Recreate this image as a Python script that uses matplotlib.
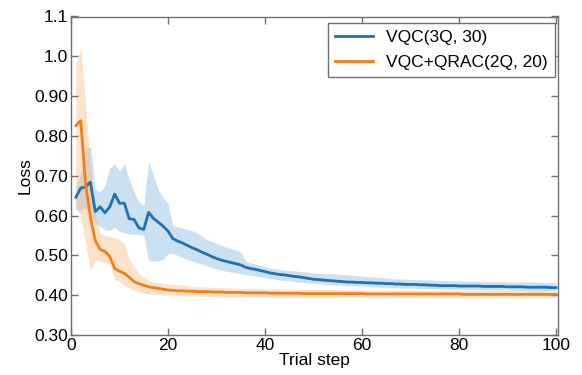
import matplotlib
matplotlib.use("Agg")
import matplotlib.pyplot as plt
import numpy as np

plt.rcParams['font.family'] = ['Liberation Sans', 'DejaVu Sans']

steps = list(range(1, 101))

vqc_mean = [
    0.646, 0.669, 0.672, 0.684, 0.610, 0.622, 0.607, 0.622, 0.654, 0.631,
    0.631, 0.592, 0.590, 0.569, 0.565, 0.608, 0.593, 0.583, 0.573, 0.561,
    0.542, 0.536, 0.531, 0.525, 0.519, 0.514, 0.508, 0.503, 0.497, 0.492,
    0.488, 0.485, 0.482, 0.479, 0.476, 0.470, 0.467, 0.465, 0.462, 0.459,
    0.456, 0.454, 0.452, 0.451, 0.449, 0.447, 0.446, 0.444, 0.442, 0.440,
    0.439, 0.438, 0.437, 0.436, 0.435, 0.434, 0.433, 0.433, 0.432, 0.432,
    0.431, 0.431, 0.430, 0.430, 0.429, 0.429, 0.428, 0.428, 0.427, 0.427,
    0.427, 0.426, 0.426, 0.425, 0.425, 0.424, 0.424, 0.424, 0.424, 0.423,
    0.423, 0.423, 0.423, 0.423, 0.422, 0.422, 0.422, 0.422, 0.422, 0.421,
    0.421, 0.421, 0.421, 0.420, 0.420, 0.420, 0.420, 0.420, 0.419, 0.419,
]
vqc_upper = [
    0.672, 0.705, 0.770, 0.772, 0.665, 0.660, 0.675, 0.720, 0.730, 0.712,
    0.730, 0.690, 0.660, 0.635, 0.625, 0.735, 0.700, 0.665, 0.645, 0.630,
    0.575, 0.572, 0.569, 0.566, 0.562, 0.556, 0.548, 0.540, 0.535, 0.530,
    0.525, 0.521, 0.517, 0.513, 0.509, 0.485, 0.481, 0.478, 0.475, 0.471,
    0.468, 0.466, 0.465, 0.463, 0.462, 0.461, 0.460, 0.459, 0.457, 0.456,
    0.455, 0.455, 0.454, 0.454, 0.453, 0.452, 0.451, 0.450, 0.449, 0.448,
    0.447, 0.446, 0.445, 0.444, 0.443, 0.442, 0.441, 0.441, 0.440, 0.440,
    0.439, 0.439, 0.438, 0.438, 0.437, 0.437, 0.437, 0.436, 0.436, 0.436,
    0.435, 0.435, 0.435, 0.435, 0.434, 0.434, 0.434, 0.434, 0.434, 0.433,
    0.433, 0.433, 0.433, 0.433, 0.433, 0.433, 0.432, 0.432, 0.432, 0.432,
]
vqc_lower = [
    0.615, 0.612, 0.620, 0.600, 0.580, 0.572, 0.565, 0.562, 0.570, 0.560,
    0.556, 0.554, 0.553, 0.552, 0.550, 0.487, 0.486, 0.486, 0.490, 0.505,
    0.505, 0.500, 0.495, 0.490, 0.486, 0.482, 0.478, 0.474, 0.470, 0.466,
    0.463, 0.460, 0.458, 0.456, 0.454, 0.452, 0.450, 0.448, 0.446, 0.444,
    0.442, 0.440, 0.438, 0.437, 0.436, 0.434, 0.433, 0.432, 0.431, 0.430,
    0.429, 0.428, 0.427, 0.426, 0.426, 0.425, 0.424, 0.424, 0.423, 0.423,
    0.422, 0.421, 0.421, 0.420, 0.420, 0.419, 0.419, 0.418, 0.418, 0.418,
    0.417, 0.417, 0.417, 0.416, 0.416, 0.416, 0.415, 0.415, 0.415, 0.415,
    0.414, 0.414, 0.414, 0.414, 0.414, 0.413, 0.413, 0.413, 0.413, 0.413,
    0.413, 0.412, 0.412, 0.412, 0.412, 0.412, 0.412, 0.412, 0.412, 0.412,
]

qrac_mean = [
    0.826, 0.838, 0.680, 0.596, 0.537, 0.515, 0.510, 0.497, 0.467, 0.460,
    0.455, 0.445, 0.434, 0.429, 0.425, 0.421, 0.419, 0.417, 0.415, 0.413,
    0.412, 0.411, 0.411, 0.410, 0.410, 0.409, 0.409, 0.409, 0.408, 0.408,
    0.408, 0.407, 0.407, 0.407, 0.407, 0.406, 0.406, 0.406, 0.406, 0.406,
    0.405, 0.405, 0.405, 0.405, 0.405, 0.405, 0.405, 0.404, 0.404, 0.404,
    0.404, 0.404, 0.404, 0.404, 0.404, 0.404, 0.404, 0.404, 0.404, 0.404,
    0.403, 0.403, 0.403, 0.403, 0.403, 0.403, 0.403, 0.403, 0.403, 0.403,
    0.403, 0.403, 0.403, 0.403, 0.403, 0.403, 0.403, 0.403, 0.403, 0.403,
    0.402, 0.402, 0.402, 0.402, 0.402, 0.402, 0.402, 0.402, 0.402, 0.402,
    0.402, 0.402, 0.402, 0.402, 0.402, 0.402, 0.402, 0.402, 0.402, 0.402,
]
qrac_upper = [
    0.980, 1.020, 0.880, 0.720, 0.600, 0.555, 0.550, 0.548, 0.545, 0.540,
    0.530, 0.490, 0.470, 0.455, 0.445, 0.438, 0.433, 0.431, 0.429, 0.428,
    0.427, 0.426, 0.425, 0.424, 0.422, 0.421, 0.421, 0.420, 0.420, 0.419,
    0.419, 0.418, 0.418, 0.418, 0.417, 0.417, 0.417, 0.417, 0.416, 0.416,
    0.416, 0.416, 0.415, 0.415, 0.415, 0.415, 0.415, 0.414, 0.414, 0.414,
    0.414, 0.414, 0.414, 0.414, 0.414, 0.413, 0.413, 0.413, 0.413, 0.413,
    0.413, 0.413, 0.413, 0.413, 0.413, 0.413, 0.413, 0.413, 0.413, 0.413,
    0.413, 0.413, 0.412, 0.412, 0.412, 0.412, 0.412, 0.412, 0.412, 0.412,
    0.412, 0.412, 0.412, 0.412, 0.412, 0.412, 0.412, 0.412, 0.412, 0.412,
    0.412, 0.412, 0.412, 0.412, 0.412, 0.412, 0.412, 0.412, 0.412, 0.412,
]
qrac_lower = [
    0.620, 0.600, 0.530, 0.462, 0.488, 0.486, 0.482, 0.478, 0.440, 0.435,
    0.425, 0.418, 0.412, 0.408, 0.405, 0.403, 0.402, 0.401, 0.400, 0.400,
    0.399, 0.399, 0.398, 0.398, 0.398, 0.397, 0.397, 0.397, 0.397, 0.397,
    0.396, 0.396, 0.396, 0.396, 0.396, 0.396, 0.396, 0.396, 0.396, 0.396,
    0.395, 0.395, 0.395, 0.395, 0.395, 0.395, 0.395, 0.395, 0.395, 0.395,
    0.395, 0.395, 0.395, 0.395, 0.395, 0.395, 0.395, 0.395, 0.395, 0.395,
    0.394, 0.394, 0.394, 0.394, 0.394, 0.394, 0.394, 0.394, 0.394, 0.394,
    0.394, 0.394, 0.394, 0.394, 0.394, 0.394, 0.394, 0.394, 0.394, 0.394,
    0.394, 0.394, 0.394, 0.394, 0.394, 0.394, 0.394, 0.394, 0.394, 0.394,
    0.394, 0.394, 0.394, 0.394, 0.394, 0.394, 0.394, 0.394, 0.394, 0.394,
]

series_labels = ["VQC(3Q, 30)", "VQC+QRAC(2Q, 20)"]
ytick_vals = [0.3, 0.4, 0.5, 0.6, 0.7, 0.8, 0.9, 1.0, 1.1]
ytick_labels = ["0.30", "0.40", "0.50", "0.60", "0.70", "0.80", "0.90", "1.0", "1.1"]
xtick_vals = [0, 20, 40, 60, 80, 100]

blue = "#2270b0"
orange = "#f07f1a"
FS = 12.5

fig = plt.figure(figsize=(5.82, 3.75), dpi=100)
ax = fig.add_axes([71/582, 40/375, 487/582, 318.5/375])

ax.fill_between(steps, vqc_lower, vqc_upper, color="#7fb2dd", alpha=0.4, lw=0)
ax.fill_between(steps, qrac_lower, qrac_upper, color="#fdb679", alpha=0.4, lw=0)
ax.plot(steps, vqc_mean, color=blue, lw=2.0, label=series_labels[0])
ax.plot(steps, qrac_mean, color=orange, lw=2.0, label=series_labels[1])

ax.set_xlim(0, 100.4)
ax.set_ylim(0.3, 1.1)
ax.set_yticks(ytick_vals)
ax.set_yticklabels(ytick_labels)
ax.set_xticks(xtick_vals)

for s in ax.spines.values():
    s.set_color("#707070")
    s.set_linewidth(1.0)
ax.tick_params(direction="in", top=True, right=True, length=5, width=1,
               color="#707070", labelsize=FS, pad=2)
ax.set_xlabel("Trial step", fontsize=FS, labelpad=0)
ax.set_ylabel("Loss", fontsize=FS, labelpad=1)

leg = ax.legend(loc="upper right", bbox_to_anchor=(0.9938, 0.980), borderaxespad=0,
                fancybox=False, edgecolor="#707070", fontsize=FS, handlelength=2.2,
                borderpad=0.4, labelspacing=0.55, handletextpad=0.75,
                framealpha=1)
leg.get_frame().set_linewidth(1.0)

fig.savefig("out.png", dpi=100)
